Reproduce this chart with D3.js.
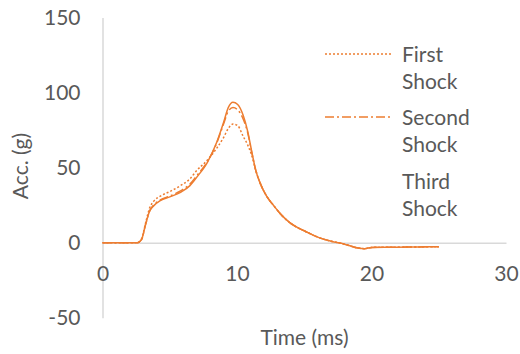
<!DOCTYPE html>
<html>
<head>
<meta charset="utf-8">
<script src="https://cdn.jsdelivr.net/npm/d3@7"></script>
<style>
  html, body { margin: 0; padding: 0; background: #ffffff; }
  svg { display: block; }
  text { font-family: Lato, "Open Sans", sans-serif; fill: #595959; }
</style>
</head>
<body>
<svg id="chart" width="520" height="354"></svg>
<script>
// Acceleration traces (g) against time (ms) for three successive shocks
const time = [0, 1, 2, 2.6, 2.9, 3.2, 3.5, 3.8, 4.3, 5, 5.8, 6.5, 7, 7.8, 8.5, 9, 9.35, 9.7, 10.05, 10.45, 10.8, 11.1, 11.4, 11.8, 12.2, 12.7, 13.3, 13.9, 15.2, 16.2, 17, 18, 19, 19.5, 20, 21, 22, 23, 24, 25];
const firstShock  = [0, 0, 0, 0, 2.5, 13, 23, 27.5, 31, 34, 38, 42.5, 48, 55, 63, 70, 76, 79, 78, 71, 65, 58, 48, 38, 31, 25, 18.5, 13.5, 7, 3, 1, -1, -3.6, -4, -3.2, -3, -3, -2.9, -2.8, -2.7];
const secondShock = [0, 0, 0, 0, 2, 12, 21, 25, 28.5, 31, 34.5, 39, 44.5, 54, 66.5, 79, 87.5, 90, 88.5, 82.5, 73, 60, 48, 38, 31, 25, 18.5, 13.5, 7, 3, 1, -1, -3.6, -4, -3.2, -3, -3, -2.9, -2.8, -2.7];
const thirdShock  = [0, 0, 0, 0, 2, 12, 21, 24.5, 28, 30.5, 33.5, 38, 43.5, 53.5, 67, 80, 90, 93.5, 92, 85, 74, 60.5, 48, 38, 31, 25, 18.5, 13.5, 7, 3, 1, -1, -3.6, -4, -3.2, -3, -3, -2.9, -2.8, -2.7];

const seriesNames = ["First Shock", "Second Shock", "Third Shock"];
const xTicks = [0, 10, 20, 30];
const yTicks = [-50, 0, 50, 100, 150];

const series = [
  { name: seriesNames[0], values: firstShock,  dash: "2,2" },
  { name: seriesNames[1], values: secondShock, dash: "9,3,2,3" },
  { name: seriesNames[2], values: thirdShock,  dash: null }
];

const svg = d3.select("#chart");
const lineColor = "#ED7D31";
const axisColor = "#d9d9d9";

const x = d3.scaleLinear().domain([0, 30]).range([102.5, 506]);
const y = d3.scaleLinear().domain([-50, 150]).range([317.7, 17.5]);

// Y axis (vertical line at x = 0) with labels on the left
const yAxis = svg.append("g")
  .attr("transform", `translate(${x(0)},0)`)
  .call(d3.axisLeft(y).tickValues(yTicks).tickSize(0).tickPadding(22)
    .tickFormat(d => String(d)));
yAxis.select(".domain").attr("stroke", axisColor).attr("stroke-width", 1.5);
yAxis.selectAll("text").style("font-size", "21px").attr("fill", "#595959");

// X axis (horizontal line at y = 0) with labels below
const xAxis = svg.append("g")
  .attr("transform", `translate(0,${y(0)})`)
  .call(d3.axisBottom(x).tickValues(xTicks).tickSize(0).tickPadding(23)
    .tickFormat(d => String(d)));
xAxis.select(".domain").attr("stroke", axisColor).attr("stroke-width", 1.5);
xAxis.selectAll("text").style("font-size", "21px").attr("fill", "#595959");

// Traces
const line = d3.line()
  .x((d, i) => x(time[i]))
  .y(d => y(d))
  .curve(d3.curveMonotoneX);

svg.append("g").selectAll("path")
  .data(series)
  .join("path")
  .attr("d", d => line(d.values))
  .attr("fill", "none")
  .attr("stroke", lineColor)
  .attr("stroke-width", 1.5)
  .attr("stroke-dasharray", d => d.dash)
  .attr("stroke-linejoin", "round");

// Axis titles
svg.append("text")
  .attr("x", 304.5).attr("y", 345)
  .attr("text-anchor", "middle")
  .style("font-size", "21px")
  .text("Time (ms)");

svg.append("text")
  .attr("transform", "translate(28,166) rotate(-90)")
  .attr("text-anchor", "middle")
  .style("font-size", "21px")
  .text("Acc. (g)");

// Legend: sample line plus two-line label per series
const legendTop = [62, 125, 189];
const legend = svg.append("g").selectAll("g")
  .data(series)
  .join("g")
  .attr("transform", (d, i) => `translate(0,${legendTop[i]})`);

legend.filter(d => d.dash !== null).append("line")
  .attr("x1", 325).attr("x2", 393)
  .attr("y1", -8).attr("y2", -8)
  .attr("stroke", lineColor)
  .attr("stroke-width", 1.5)
  .attr("stroke-dasharray", d => d.dash);

legend.append("text")
  .attr("x", 402)
  .style("font-size", "21px")
  .selectAll("tspan")
  .data(d => d.name.split(" "))
  .join("tspan")
  .attr("x", 402)
  .attr("dy", (d, i) => i === 0 ? 0 : 26.5)
  .text(d => d);
</script>
</body>
</html>
